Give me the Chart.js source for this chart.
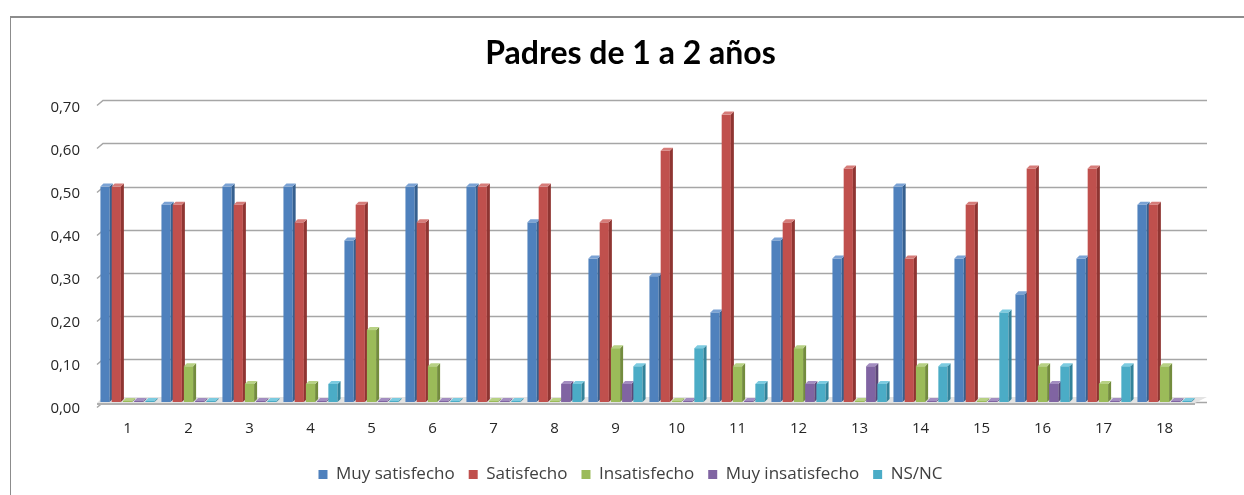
<!DOCTYPE html>
<html>
<head>
<meta charset="utf-8">
<script src="https://cdn.jsdelivr.net/npm/chart.js@4.4.1/dist/chart.umd.min.js"></script>
<style>
  html, body { margin: 0; padding: 0; background: #ffffff; }
  #sheet { position: absolute; left: 0; top: 0; width: 1244px; height: 495px; background: #fff; }
  #frame { position: absolute; left: 10px; top: 16px; width: 1240px; height: 490px; border-left: 1px solid #8c8c8c; border-top: 2px solid #8c8c8c; background: #fff; }
  #wrap { position: absolute; left: 0; top: 0; width: 1244px; height: 495px; }
</style>
</head>
<body>
<div id="sheet"></div>
<div id="frame"></div>
<div id="wrap"><canvas id="c" width="1244" height="495"></canvas></div>
<script>
const categories = ["1","2","3","4","5","6","7","8","9","10","11","12","13","14","15","16","17","18"];
const seriesNames = ["Muy satisfecho","Satisfecho","Insatisfecho","Muy insatisfecho","NS/NC"];
const muySatisfecho   = [0.500,0.458,0.500,0.500,0.375,0.500,0.500,0.417,0.333,0.292,0.208,0.375,0.333,0.500,0.333,0.250,0.333,0.458];
const satisfecho      = [0.500,0.458,0.458,0.417,0.458,0.417,0.500,0.500,0.417,0.583,0.667,0.417,0.542,0.333,0.458,0.542,0.542,0.458];
const insatisfecho    = [0.000,0.083,0.042,0.042,0.167,0.083,0.000,0.000,0.125,0.000,0.083,0.125,0.000,0.083,0.000,0.083,0.042,0.083];
const muyInsatisfecho = [0.000,0.000,0.000,0.000,0.000,0.000,0.000,0.042,0.042,0.000,0.000,0.042,0.083,0.000,0.000,0.042,0.000,0.000];
const nsnc            = [0.000,0.000,0.000,0.042,0.000,0.000,0.000,0.042,0.083,0.125,0.042,0.042,0.042,0.083,0.208,0.083,0.083,0.000];
const yTicks = [0,0.1,0.2,0.3,0.4,0.5,0.6,0.7];

const colors = ["#4F81BD","#C0504D","#9BBB59","#8064A2","#4BACC6"];
const sideColors = ["#36608f","#8f3532","#738c3e","#5c4778","#33839a"];
const topColors = ["#7aa2d4","#d67c79","#b7d184","#a38dc0","#7ccbe0"];
const allSeries = [muySatisfecho, satisfecho, insatisfecho, muyInsatisfecho, nsnc];

const fmt = (v) => v.toFixed(2).replace('.', ',');
const D = 3; // depth of 3D bar effect
const bar3d = {
  id: 'bar3d',
  beforeDatasetsDraw(chart) {
    const ctx = chart.ctx, a = chart.chartArea, y = chart.scales.y;
    ctx.save();
    // back-wall gridlines with 3D slant at the left
    ctx.strokeStyle = '#a6a6a6';
    ctx.lineWidth = 1.5;
    yTicks.forEach(v => {
      const py = Math.round(y.getPixelForValue(v)) + 0.5;
      ctx.beginPath();
      ctx.moveTo(a.left, py + 5);
      ctx.lineTo(a.left + 6, py);
      ctx.lineTo(a.right + 12, py);
      ctx.stroke();
    });
    // y tick labels (front face, slightly below the back-wall line)
    ctx.fillStyle = '#262626';
    ctx.font = '15px "Open Sans"';
    ctx.textAlign = 'right';
    ctx.textBaseline = 'middle';
    yTicks.forEach(v => {
      ctx.fillText(fmt(v), a.left - 17, y.getPixelForValue(v) + 7);
    });
    // floor
    const yb = y.getPixelForValue(0);
    ctx.fillStyle = '#e3e3e3';
    ctx.beginPath();
    ctx.moveTo(a.left, yb + 1);
    ctx.lineTo(a.right, yb + 1);
    ctx.lineTo(a.right + 12, yb - 5);
    ctx.lineTo(a.left + 6, yb - 5);
    ctx.closePath();
    ctx.fill();
    ctx.fillStyle = '#b0b0b0';
    ctx.fillRect(a.left, yb + 1, a.right - a.left, 2);
    ctx.restore();
  },
  afterDatasetsDraw(chart) {
    const ctx = chart.ctx;
    ctx.save();
    chart.data.datasets.forEach((ds, i) => {
      const meta = chart.getDatasetMeta(i);
      meta.data.forEach(el => {
        const p = el.getProps(['x','y','base','width'], true);
        const l = p.x - p.width/2, r = p.x + p.width/2;
        const top = Math.min(p.y, p.base - 1), bot = p.base;
        ctx.fillStyle = colors[i];
        ctx.fillRect(l, top, r - l, bot - top);
        ctx.fillStyle = sideColors[i];
        ctx.beginPath();
        ctx.moveTo(r, top); ctx.lineTo(r + D, top - D); ctx.lineTo(r + D, bot - D); ctx.lineTo(r, bot);
        ctx.closePath(); ctx.fill();
        ctx.fillStyle = topColors[i];
        ctx.beginPath();
        ctx.moveTo(l, top); ctx.lineTo(l + D, top - D); ctx.lineTo(r + D, top - D); ctx.lineTo(r, top);
        ctx.closePath(); ctx.fill();
      });
    });
    ctx.restore();
  }
};

new Chart(document.getElementById('c'), {
  type: 'bar',
  data: {
    labels: categories,
    datasets: allSeries.map((vals, i) => ({
      label: seriesNames[i],
      data: vals,
      backgroundColor: 'rgba(0,0,0,0)',
      borderWidth: 0,
      minBarLength: 1,
      barPercentage: 0.82,
      categoryPercentage: 0.92
    }))
  },
  options: {
    responsive: false,
    animation: false,
    devicePixelRatio: 1,
    layout: { padding: { left: 66, right: 49, top: 11, bottom: 2 } },
    plugins: {
      title: {
        display: true,
        text: 'Padres de 1 a 2 años',
        color: '#000',
        font: { family: 'Lato', size: 32, weight: 'bold' },
        padding: { top: 23, bottom: 28 }
      },
      legend: {
        position: 'bottom',
        labels: {
          color: '#404040',
          font: { family: 'Open Sans', size: 17 },
          boxWidth: 9, boxHeight: 9,
          padding: 14,
          generateLabels: (chart) => chart.data.datasets.map((ds, i) => ({
            text: ds.label, fillStyle: colors[i], strokeStyle: colors[i], lineWidth: 0,
            fontColor: '#404040', datasetIndex: i, hidden: false
          }))
        }
      },
      tooltip: { enabled: false }
    },
    scales: {
      x: {
        grid: { display: false },
        border: { display: false },
        afterFit: (s) => { s.height += 4; },
        ticks: { color: '#262626', font: { family: 'Open Sans', size: 15 }, padding: 10 }
      },
      y: {
        min: 0, max: 0.7,
        afterBuildTicks: (s) => { s.ticks = yTicks.map(v => ({ value: v })); },
        afterFit: (s) => { s.width = 31; },
        grid: { display: false },
        border: { display: false },
        ticks: { display: false }
      }
    }
  },
  plugins: [bar3d]
});
</script>
</body>
</html>
